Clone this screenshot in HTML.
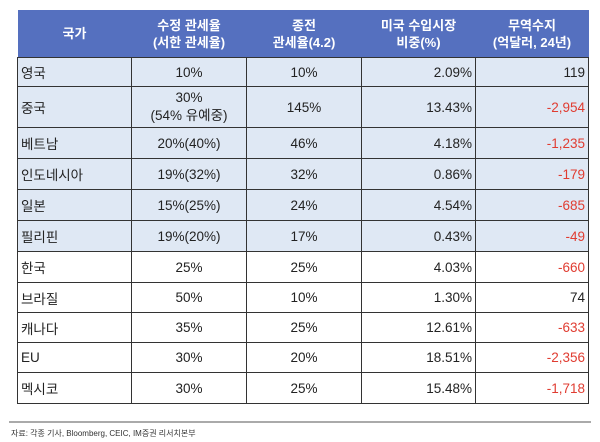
<!DOCTYPE html>
<html><head><meta charset="utf-8"><style>
body{margin:0;width:600px;height:442px;background:#fff;font-family:"Liberation Sans","Noto Sans CJK KR",sans-serif;position:relative;overflow:hidden}
table{position:absolute;left:17px;top:10px;border-collapse:collapse;font-size:13.5px;color:#222;table-layout:fixed}
th{background:#5570bf;color:#fff;font-weight:bold;height:47px;line-height:17px;padding:0;border:none;font-size:13px}
td{border:1.5px solid #333;height:29px;padding:0 3px;box-sizing:border-box;overflow:hidden;white-space:nowrap}
tr.b td{background:#dfe8f4}
td.c{text-align:center}td.r{text-align:right}td.l{text-align:left}
.n{color:#e03c31}
.foot{position:absolute;left:9px;top:421px;width:582px;border-top:2px solid #aaa}
.ft{position:absolute;left:11px;top:428px;font-size:8px;color:#333}
</style></head><body>
<table>
<colgroup><col style="width:114px"><col style="width:115px"><col style="width:115px"><col style="width:114px"><col style="width:113px"></colgroup>
<tr><th>국가</th><th>수정 관세율<br>(서한 관세율)</th><th>종전<br>관세율(4.2)</th><th>미국 수입시장<br>비중(%)</th><th>무역수지<br>(억달러, 24년)</th></tr>
<tr class="b"><td class="l">영국</td><td class="c">10%</td><td class="c">10%</td><td class="r">2.09%</td><td class="r">119</td></tr>
<tr class="b"><td class="l" style="height:41px">중국</td><td class="c" style="line-height:18px">30%<br>(54% 유예중)</td><td class="c">145%</td><td class="r">13.43%</td><td class="r n">-2,954</td></tr>
<tr class="b"><td class="l" style="height:31px">베트남</td><td class="c">20%(40%)</td><td class="c">46%</td><td class="r">4.18%</td><td class="r n">-1,235</td></tr>
<tr class="b"><td class="l" style="height:31px">인도네시아</td><td class="c">19%(32%)</td><td class="c">32%</td><td class="r">0.86%</td><td class="r n">-179</td></tr>
<tr class="b"><td class="l" style="height:31px">일본</td><td class="c">15%(25%)</td><td class="c">24%</td><td class="r">4.54%</td><td class="r n">-685</td></tr>
<tr class="b"><td class="l" style="height:31px">필리핀</td><td class="c">19%(20%)</td><td class="c">17%</td><td class="r">0.43%</td><td class="r n">-49</td></tr>
<tr><td class="l" style="height:31px">한국</td><td class="c">25%</td><td class="c">25%</td><td class="r">4.03%</td><td class="r n">-660</td></tr>
<tr><td class="l" style="height:30px">브라질</td><td class="c">50%</td><td class="c">10%</td><td class="r">1.30%</td><td class="r">74</td></tr>
<tr><td class="l" style="height:30px">캐나다</td><td class="c">35%</td><td class="c">25%</td><td class="r">12.61%</td><td class="r n">-633</td></tr>
<tr><td class="l" style="height:30px">EU</td><td class="c">30%</td><td class="c">20%</td><td class="r">18.51%</td><td class="r n">-2,356</td></tr>
<tr><td class="l" style="height:31px">멕시코</td><td class="c">30%</td><td class="c">25%</td><td class="r">15.48%</td><td class="r n">-1,718</td></tr>
</table>
<div class="foot"></div>
<div class="ft">자료: 각종 기사, Bloomberg, CEIC, IM증권 리서치본부</div>
</body></html>
